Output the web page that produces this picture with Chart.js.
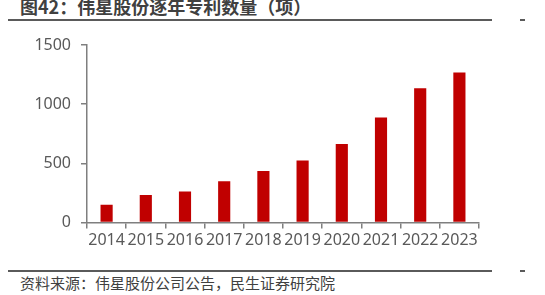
<!DOCTYPE html>
<html>
<head>
<meta charset="utf-8">
<script src="https://cdn.jsdelivr.net/npm/chart.js@4"></script>
<style>
html,body{margin:0;padding:0;background:#fff;width:545px;height:295px;overflow:hidden;position:relative;}
#title{position:absolute;left:20px;top:-5px;font:bold 18px "Noto Sans CJK SC",sans-serif;color:#404040;white-space:nowrap;line-height:22px;}
.hl{position:absolute;height:2px;background:#5a5a5a;}
#src{position:absolute;left:20px;top:274px;font:15px "Noto Sans CJK SC",sans-serif;color:#404040;white-space:nowrap;line-height:18px;}
#wrap{position:absolute;left:0;top:0;width:545px;height:295px;}
</style>
</head>
<body>
<div id="title">图42：伟星股份逐年专利数量（项）</div>
<div class="hl" style="left:8px;top:19px;width:484px;"></div>
<div class="hl" style="left:520px;top:19px;width:5px;"></div>
<div class="hl" style="left:8px;top:270px;width:484px;"></div>
<div class="hl" style="left:520px;top:270px;width:5px;"></div>
<div id="src">资料来源：伟星股份公司公告，民生证券研究院</div>
<div id="wrap"><canvas id="c"></canvas></div>
<script>
const categories = ["2014","2015","2016","2017","2018","2019","2020","2021","2022","2023"];
const patents = [149, 233, 262, 349, 436, 524, 663, 888, 1135, 1267];
const yTicks = [0, 500, 1000, 1500];

const axisColor = "#7f7f7f";
const textColor = "#595959";

new Chart(document.getElementById("c"), {
  type: "bar",
  data: {
    labels: categories,
    datasets: [{
      data: patents,
      backgroundColor: "#C00000",
      borderWidth: 0,
      barPercentage: 0.31,
      categoryPercentage: 1.0
    }]
  },
  options: {
    responsive: true,
    maintainAspectRatio: false,
    animation: false,
    events: [],
    layout: { padding: { left: 0, right: 66, top: 45, bottom: 0 } },
    plugins: { legend: { display: false }, tooltip: { enabled: false } },
    scales: {
      x: {
        offset: true,
        grid: { display: true, drawOnChartArea: false, drawTicks: true, tickLength: 6, color: axisColor, lineWidth: 1.5, offset: true },
        border: { display: true, color: axisColor, width: 1.5 },
        ticks: { color: textColor, font: { family: "'Noto Sans', sans-serif", size: 16 }, padding: 2, maxRotation: 0, autoSkip: false },
        afterFit: s => { s.height = 295 - 222.5; }
      },
      y: {
        min: 0, max: 1500,
        afterBuildTicks: s => { s.ticks = yTicks.map(v => ({ value: v })); },
        grid: { display: true, drawOnChartArea: false, drawTicks: true, tickLength: 6, color: axisColor, lineWidth: 1.5 },
        border: { display: true, color: axisColor, width: 1.5 },
        ticks: { color: textColor, font: { family: "'Noto Sans', sans-serif", size: 16 }, padding: 10, callback: v => String(v) },
        afterFit: s => { s.width = 87; }
      }
    }
  }
});
</script>
</body>
</html>
